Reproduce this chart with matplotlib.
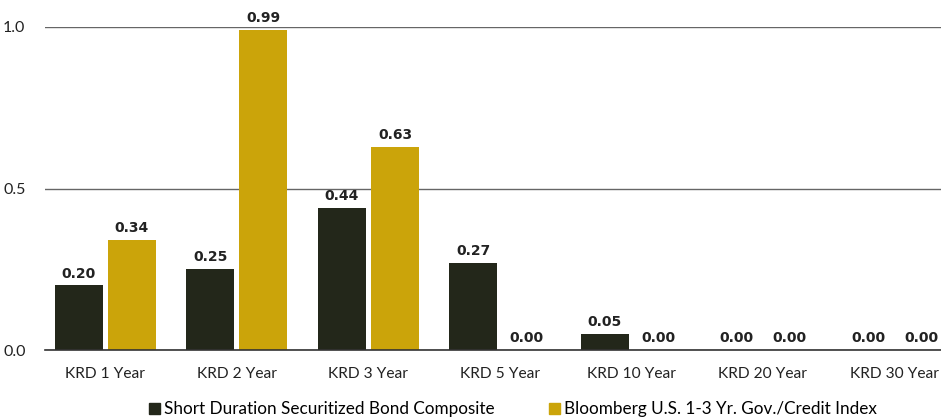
import numpy as np
import matplotlib.pyplot as plt
from matplotlib.patches import Patch

plt.rcParams['font.family'] = ['Lato', 'DejaVu Sans']

# data
categories = ["KRD 1 Year", "KRD 2 Year", "KRD 3 Year", "KRD 5 Year",
              "KRD 10 Year", "KRD 20 Year", "KRD 30 Year"]
composite = [0.20, 0.25, 0.44, 0.27, 0.05, 0.00, 0.00]
index_vals = [0.34, 0.99, 0.63, 0.00, 0.00, 0.00, 0.00]
series_names = ["Short Duration Securitized Bond Composite",
                "Bloomberg U.S. 1-3 Yr. Gov./Credit Index"]

dark = "#23271A"
gold = "#CBA40A"

fig = plt.figure(figsize=(9.41, 4.2), dpi=100)
ax = fig.add_axes([45/941, 1-350/420, 1-45/941, (350-27)/420])

x = np.arange(len(categories))
w = 0.365
off = 0.2015
b1 = ax.bar(x - off, composite, w, color=dark, zorder=3)
b2 = ax.bar(x + off, index_vals, w, color=gold, zorder=3)

for bars, vals in [(b1, composite), (b2, index_vals)]:
    for r, v in zip(bars, vals):
        ax.text(r.get_x() + r.get_width()/2, v + 0.015, f"{v:.2f}",
                ha="center", va="bottom", fontsize=10, fontweight="bold",
                family="DejaVu Sans", color="#222222", clip_on=False, zorder=4)

ax.set_xlim(-0.46, 6.354)
ax.set_ylim(0, 1.0)
ax.set_yticks([0.0, 0.5, 1.0])
ax.set_yticklabels(["0.0", "0.5", "1.0"])
ax.set_xticks(x)
ax.set_xticklabels(categories)
ax.tick_params(axis="x", length=0, labelsize=11.2, colors="#222222", pad=12)
ax.tick_params(axis="y", length=0, labelsize=11.5, colors="#222222", pad=14)
ax.grid(axis="y", color="#666666", linewidth=1, zorder=0)
for s in ["top", "right", "left"]:
    ax.spines[s].set_visible(False)
ax.spines["bottom"].set_color("#333333")
ax.spines["bottom"].set_linewidth(1.2)
ax.spines["bottom"].set_zorder(5)

handles = [Patch(color=dark), Patch(color=gold)]
fig.legend(handles, series_names, loc="lower center", ncol=2,
           bbox_to_anchor=(0.545, -0.03), frameon=False, fontsize=12.3,
           handlelength=0.65, handleheight=0.65, handletextpad=0.2,
           columnspacing=3.2)

fig.savefig("out.png", dpi=100)
